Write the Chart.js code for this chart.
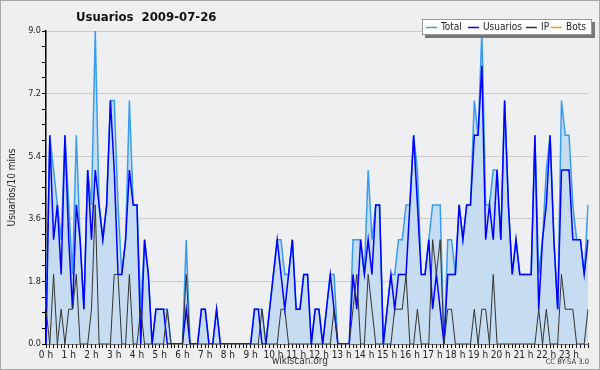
<!DOCTYPE html>
<html>
<head>
<meta charset="utf-8">
<script src="https://cdn.jsdelivr.net/npm/chart.js@4/dist/chart.umd.min.js"></script>
<style>
  html, body { margin: 0; padding: 0; background: #efefef; }
  canvas { display: block; }
</style>
</head>
<body>
<canvas id="cv1" width="600" height="370"></canvas>
<script>
// hour tick labels, one slot every 10 mins
const hourLabels = ['0 h','1 h','2 h','3 h','4 h','5 h','6 h','7 h','8 h','9 h','10 h','11 h',
  '12 h','13 h','14 h','15 h','16 h','17 h','18 h','19 h','20 h','21 h','22 h','23 h'];
const slotsPerHour = 6;

const total = [
  1,6,5,4,3,6,4,2,6,3,1,5,4,9,4,3,4,7,7,4,2,3,7,4,
  4,1,3,2,0,1,1,1,1,0,0,0,0,3,0,0,0,1,1,0,0,1,0,0,
  0,0,0,0,0,0,0,1,1,1,0,1,2,3,3,2,2,3,1,1,2,2,0,1,
  1,0,1,2,2,0,0,0,0,3,3,3,2,5,3,4,4,0,1,2,2,3,3,4,
  4,6,5,2,2,3,4,4,4,0,3,3,2,4,3,4,4,7,6,9,4,4,5,5,
  3,7,4,2,3,2,2,2,2,6,2,3,5,6,3,1,7,6,6,4,3,3,2,4
];
const usuarios = [
  0,6,3,4,2,6,3,1,4,3,1,5,3,5,4,3,4,7,5,2,2,3,5,4,
  4,0,3,2,0,1,1,1,0,0,0,0,0,1,0,0,0,1,1,0,0,1,0,0,
  0,0,0,0,0,0,0,1,1,0,0,1,2,3,2,1,2,3,1,1,2,2,0,1,
  1,0,1,2,1,0,0,0,0,2,1,3,2,3,2,4,4,0,1,2,1,2,2,2,
  4,6,4,2,2,3,1,2,1,0,2,2,2,4,3,4,4,6,6,8,3,4,3,5,
  3,7,4,2,3,2,2,2,2,6,1,3,4,6,3,1,5,5,5,3,3,3,2,3
];
const ip = [
  1,0,2,0,1,0,1,1,2,0,0,0,1,4,0,0,0,0,2,2,0,0,2,0,
  0,1,0,0,0,0,0,0,1,0,0,0,0,2,0,0,0,0,0,0,0,0,0,0,
  0,0,0,0,0,0,0,0,0,1,0,0,0,0,1,1,0,0,0,0,0,0,0,0,
  0,0,0,0,1,0,0,0,0,1,2,0,0,2,1,0,0,0,0,0,1,1,1,2,
  0,0,1,0,0,0,3,2,3,0,1,1,0,0,0,0,0,1,0,1,1,0,2,0,
  0,0,0,0,0,0,0,0,0,0,1,0,1,0,0,0,2,1,1,1,0,0,0,1
];
const bots = [
  0,0,0,0,0,0,0,0,0,0,0,0,0,0,0,0,0,0,0,0,0,0,0,0,
  0,0,0,0,0,0,0,0,0,0,0,0,0,0,0,0,0,0,0,0,0,0,0,0,
  0,0,0,0,0,0,0,0,0,0,0,0,0,0,0,0,0,0,0,0,0,0,0,0,
  0,0,0,0,0,0,0,0,0,0,0,0,0,0,0,0,0,0,0,0,0,0,0,0,
  0,0,0,0,0,0,0,0,0,0,0,0,0,0,0,0,0,0,0,0,0,0,0,0,
  0,0,0,0,0,0,0,0,0,0,0,0,0,0,0,0,0,0,0,0,0,0,0,0
];

const yTicks = [0.0, 1.8, 3.6, 5.4, 7.2, 9.0];

var slots = [];
hourLabels.forEach(function(h) {
  for (var k = 0; k < slotsPerHour; k++) slots.push(h + ' ' + (k * 10));
});

const FONT = "'DejaVu Sans Condensed', 'DejaVu Sans', sans-serif";

function isMajorY(v) {
  return yTicks.some(function(t) { return Math.abs(t - v) < 1e-6; });
}

const bgPlugin = {
  id: 'bg',
  beforeDraw(chart) {
    const c = chart.ctx, a = chart.chartArea;
    c.save();
    c.fillStyle = '#efefef';
    c.fillRect(0, 0, chart.width, chart.height);
    c.strokeStyle = '#a8a8a8';
    c.lineWidth = 1;
    c.strokeRect(0.5, 0.5, chart.width - 1, chart.height - 1);
    c.fillStyle = '#eeeff1';
    c.fillRect(a.left, a.top, a.right - a.left, a.bottom - a.top);
    c.restore();
  }
};

const textPlugin = {
  id: 'texts',
  afterDraw(chart) {
    const c = chart.ctx, a = chart.chartArea;
    c.save();
    c.fillStyle = '#111';
    c.font = 'bold 13px ' + FONT;
    c.textBaseline = 'alphabetic';
    c.textAlign = 'left';
    c.fillText('Usuarios  2009-07-26', 76, 21);

    c.font = '10px ' + FONT;
    c.fillStyle = '#222';
    c.save();
    c.translate(12, (a.top + a.bottom) / 2);
    c.rotate(-Math.PI / 2);
    c.textAlign = 'center';
    c.textBaseline = 'middle';
    c.fillText('Usuarios/10 mins', 0, 0);
    c.restore();

    c.textAlign = 'center';
    c.textBaseline = 'middle';
    c.fillStyle = '#333';
    c.fillText('wikiscan.org', 300, 361);
    c.font = '7.5px ' + FONT;
    c.textAlign = 'right';
    c.fillText('CC BY-SA 3.0', 589, 362);

    // legend box with shadow
    const lx = 422, ly = 19, lw = 170, lh = 16;
    c.fillStyle = '#777';
    c.fillRect(lx + 3, ly + 3, lw, lh);
    c.fillStyle = '#fff';
    c.fillRect(lx, ly, lw, lh);
    c.strokeStyle = '#999';
    c.strokeRect(lx + 0.5, ly + 0.5, lw - 1, lh - 1);
    c.font = '10px ' + FONT;
    c.textAlign = 'left';
    c.textBaseline = 'middle';
    const cy = ly + lh / 2 + 0.5;
    const sw = [426, 468, 526, 551];
    chart.data.datasets.slice().sort(function(p, q) { return p.legendIdx - q.legendIdx; }).forEach(function(ds, k) {
      var x = sw[k];
      c.strokeStyle = ds.borderColor;
      c.lineWidth = 1.5;
      c.beginPath();
      c.moveTo(x, cy);
      c.lineTo(x + 11, cy);
      c.stroke();
      c.fillStyle = '#222';
      c.fillText(ds.label, x + 15, cy);
    });
    c.restore();
  }
};

const ctx = document.getElementById('cv1').getContext('2d');
const chart = new Chart(ctx, {
  type: 'line',
  data: {
    labels: slots,
    datasets: [
      { label: 'Total', data: total, borderColor: '#3a9cf0', backgroundColor: '#c6dcf0',
        fill: 'origin', borderWidth: 1.5, order: 4, legendIdx: 0 },
      { label: 'Usuarios', data: usuarios, borderColor: '#0000ff', borderWidth: 1.5,
        fill: false, order: 3, legendIdx: 1 },
      { label: 'IP', data: ip, borderColor: '#333333', borderWidth: 1,
        fill: false, order: 2, legendIdx: 2 },
      { label: 'Bots', data: bots, borderColor: '#ff9900', borderWidth: 1,
        fill: false, order: 5, legendIdx: 3 }
    ]
  },
  options: {
    responsive: false,
    animation: false,
    devicePixelRatio: 1,
    layout: { padding: { top: 31, right: 12, bottom: 0, left: 0 } },
    elements: { point: { radius: 0 }, line: { tension: 0 } },
    plugins: { legend: { display: false }, tooltip: { enabled: false }, title: { display: false } },
    scales: {
      x: {
        z: 1,
        grid: { drawOnChartArea: false, tickLength: 4, tickColor: '#000', tickWidth: 1 },
        border: { color: '#000', width: 1.5 },
        ticks: {
          autoSkip: false, maxRotation: 0, minRotation: 0, padding: 1,
          color: '#222', font: { family: FONT, size: 10 },
          callback: function(v, i) { return i % slotsPerHour === 0 ? hourLabels[i / slotsPerHour] : ''; }
        },
        afterFit: function(axis) { axis.height = 26; }
      },
      y: {
        min: 0, max: 9,
        grid: {
          color: function(c) { return c.tick && c.tick.value > 0 && isMajorY(c.tick.value) ? '#cccccc' : 'rgba(0,0,0,0)'; },
          tickColor: '#000', tickLength: 4, lineWidth: 1
        },
        border: { color: '#000', width: 1.5 },
        ticks: {
          stepSize: 0.45, autoSkip: false, padding: 1,
          color: '#222', font: { family: FONT, size: 9 },
          callback: function(v) { return isMajorY(v) ? v.toFixed(1) : ''; }
        },
        afterFit: function(axis) { axis.width = 46; }
      }
    }
  },
  plugins: [bgPlugin, textPlugin]
});
</script>
</body>
</html>
